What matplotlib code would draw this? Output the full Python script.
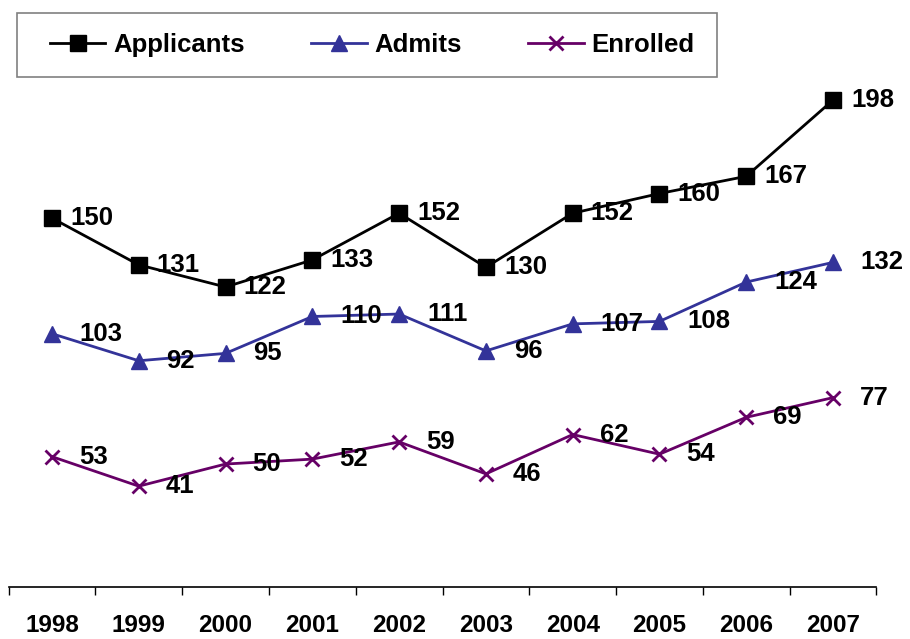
import matplotlib
matplotlib.use("Agg")
import matplotlib.pyplot as plt
from matplotlib.patches import Rectangle

plt.rcParams["font.family"] = ["Liberation Sans", "DejaVu Sans"]
plt.rcParams["font.weight"] = "bold"

years = ["1998", "1999", "2000", "2001", "2002", "2003", "2004", "2005", "2006", "2007"]
applicants = [150, 131, 122, 133, 152, 130, 152, 160, 167, 198]
admits = [103, 92, 95, 110, 111, 96, 107, 108, 124, 132]
enrolled = [53, 41, 50, 52, 59, 46, 62, 54, 69, 77]

# (name, values, colour, marker, marker size, label offset in points)
SERIES = [
    ("Applicants", applicants, "#000000", "s", 11, 13),
    ("Admits", admits, "#333399", "^", 11, 20),
    ("Enrolled", enrolled, "#660066", "x", 10, 19.5),
]
FS = 18.5

fig = plt.figure(figsize=(9.1, 6.39), dpi=100)
ax = fig.add_axes([8.6 / 910, 52 / 639, 867.8 / 910, 587 / 639])

xs = list(range(len(years)))
for name, vals, color, mk, ms, off in SERIES:
    ax.plot(xs, vals, color=color, lw=2, marker=mk, ms=ms,
            mew=2 if mk == "x" else 1, mec=color, mfc=color, label=name)
    for x, v in zip(xs, vals):
        ax.annotate(str(v), (x, v), xytext=(off, 0), textcoords="offset points",
                    ha="left", va="center", fontsize=FS, fontweight="bold")

ax.set_xlim(-0.5, len(years) - 0.5)
ax.set_ylim(0, 238.7)
for s in ["top", "right", "left"]:
    ax.spines[s].set_visible(False)
ax.spines["bottom"].set_linewidth(1.2)
ax.set_yticks([])
ax.set_xticks(xs)
ax.set_xticklabels(years, fontsize=17.5, fontweight="bold")
ax.tick_params(axis="x", which="major", length=0, pad=19.5)
ax.set_xticks([x - 0.5 for x in xs] + [len(years) - 0.5], minor=True)
ax.tick_params(axis="x", which="minor", length=6, width=1, direction="out")

# legend box
fig.patches.append(Rectangle((17 / 910, 1 - 77 / 639), 700 / 910, 64 / 639,
                             transform=fig.transFigure, fill=False,
                             edgecolor="#808080", lw=1.2))
fig.legend(loc="center left", ncol=3, bbox_to_anchor=(50 / 910, 1 - 45 / 639),
           prop={"size": FS, "weight": "bold"}, frameon=False,
           borderpad=0, borderaxespad=0, handlelength=2.15,
           handletextpad=0.3, columnspacing=2.6)

fig.savefig("out.png", dpi=100)
